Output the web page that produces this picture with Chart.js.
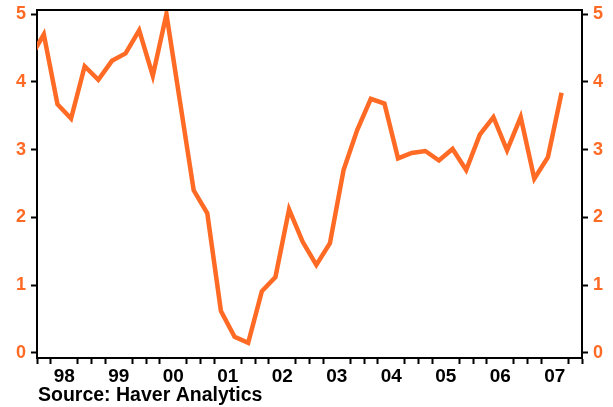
<!DOCTYPE html>
<html>
<head>
<meta charset="utf-8">
<script src="https://cdn.jsdelivr.net/npm/chart.js@4.4.1/dist/chart.umd.min.js"></script>
<style>
  html, body { margin: 0; padding: 0; background: #fff; }
  #wrap { width: 613px; height: 407px; position: relative; }
</style>
</head>
<body>
<div id="wrap"><canvas id="chart"></canvas></div>
<script>
// quarterly values, first point (97Q4) sits just left of the axis and gets clipped
const quarters = [
  '1997Q4',
  '1998Q1', '1998Q2', '1998Q3', '1998Q4',
  '1999Q1', '1999Q2', '1999Q3', '1999Q4',
  '2000Q1', '2000Q2', '2000Q3', '2000Q4',
  '2001Q1', '2001Q2', '2001Q3', '2001Q4',
  '2002Q1', '2002Q2', '2002Q3', '2002Q4',
  '2003Q1', '2003Q2', '2003Q3', '2003Q4',
  '2004Q1', '2004Q2', '2004Q3', '2004Q4',
  '2005Q1', '2005Q2', '2005Q3', '2005Q4',
  '2006Q1', '2006Q2', '2006Q3', '2006Q4',
  '2007Q1', '2007Q2', '2007Q3'
];
const values = [
  4.35,
  4.70, 3.67, 3.46, 4.23,
  4.03, 4.31, 4.42, 4.76,
  4.09, 5.00, 3.70, 2.40,
  2.06, 0.62, 0.24, 0.15,
  0.91, 1.12, 2.12, 1.64,
  1.30, 1.62, 2.70, 3.29,
  3.75, 3.68, 2.87, 2.95,
  2.98, 2.84, 3.01, 2.70,
  3.22, 3.48, 2.99, 3.48,
  2.57, 2.89, 3.84
];
const yTicks = [0, 1, 2, 3, 4, 5];
const sourceText = 'Source: Haver Analytics';

const ORANGE = '#ff6a24';
const FONT = '"Liberation Sans", Arial, sans-serif';

// put each quarter at the middle of its slot on a year axis
function quarterToX(q) {
  const year = parseInt(q.slice(0, 4), 10);
  const n = parseInt(q.slice(5), 10);
  return year + (n - 0.5) / 4;
}

// year labels sit in the middle of each year
function isMidYear(value) {
  const frac = value - Math.floor(value);
  return Math.abs(frac - 0.5) < 0.01;
}

const points = quarters.map((q, i) => ({ x: quarterToX(q), y: values[i] }));

const frameAndSource = {
  id: 'frameAndSource',
  afterDraw(chart) {
    const { ctx, chartArea } = chart;
    ctx.save();
    ctx.strokeStyle = '#000';
    ctx.lineWidth = 2;
    ctx.beginPath();
    ctx.moveTo(chartArea.left, chartArea.top);
    ctx.lineTo(chartArea.right, chartArea.top);
    ctx.stroke();

    ctx.fillStyle = '#000';
    ctx.font = 'bold 19.5px ' + FONT;
    ctx.textBaseline = 'alphabetic';
    ctx.textAlign = 'left';
    ctx.fillText(sourceText, chartArea.left + 1, 401);
    ctx.restore();
  }
};

const yAxis = (position, width) => ({
  type: 'linear',
  position: position,
  min: -0.074,
  max: 5.06,
  afterBuildTicks(scale) {
    scale.ticks = yTicks.map(v => ({ value: v }));
  },
  afterFit(scale) {
    scale.width = width;
    // labels may hang over the plot edges, do not let them push the plot
    scale.paddingTop = 0;
    scale.paddingBottom = 0;
  },
  grid: {
    drawOnChartArea: false,
    drawTicks: true,
    tickLength: 6,
    tickWidth: 2,
    tickColor: '#000'
  },
  border: { display: true, color: '#000', width: 2 },
  ticks: {
    color: ORANGE,
    padding: 5,
    font: { family: FONT, size: 18, weight: 'bold' }
  }
});

new Chart(document.getElementById('chart'), {
  type: 'line',
  data: {
    datasets: [{
      data: points,
      borderColor: ORANGE,
      borderWidth: 4.5,
      pointRadius: 0,
      tension: 0,
      fill: false,
      clip: 0
    }]
  },
  options: {
    responsive: true,
    maintainAspectRatio: false,
    animation: false,
    layout: { padding: { top: 10, left: 0, right: 0, bottom: 0 } },
    plugins: {
      legend: { display: false },
      tooltip: { enabled: false }
    },
    scales: {
      x: {
        type: 'linear',
        position: 'bottom',
        min: 1998,
        max: 2008,
        afterFit(scale) {
          scale.height = 49;
        },
        grid: {
          drawOnChartArea: false,
          drawTicks: true,
          tickLength: 6,
          tickWidth: 2,
          tickColor: ctx => (ctx.tick && isMidYear(ctx.tick.value)) ? 'rgba(0,0,0,0)' : '#000'
        },
        border: { display: true, color: '#000', width: 2 },
        ticks: {
          stepSize: 0.25,
          autoSkip: false,
          maxRotation: 0,
          padding: 1,
          color: '#000',
          font: { family: FONT, size: 19, weight: 'bold' },
          callback(value) {
            if (isMidYear(value)) {
              return String(Math.floor(value) % 100).padStart(2, '0');
            }
            return '';
          }
        }
      },
      y: yAxis('left', 37),
      y2: yAxis('right', 31)
    }
  },
  plugins: [frameAndSource]
});
</script>
</body>
</html>
